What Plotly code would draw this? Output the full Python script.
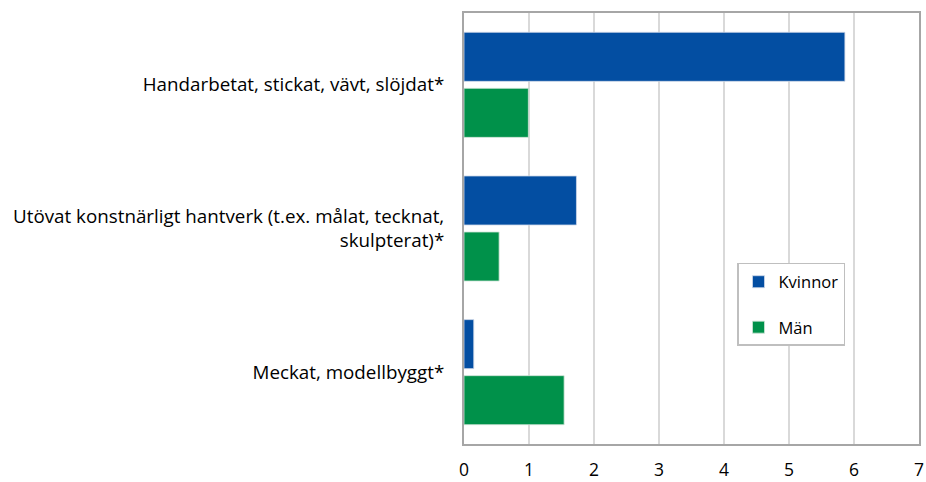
import plotly.graph_objects as go

categories = [
    "Handarbetat, stickat, vävt, slöjdat*",
    "Utövat konstnärligt hantverk (t.ex. målat, tecknat,<br>skulpterat)*",
    "Meckat, modellbyggt*",
]
kvinnor = [5.86, 1.73, 0.15]
man = [0.99, 0.54, 1.54]
x_ticks = [0, 1, 2, 3, 4, 5, 6, 7]

BLUE = "#034EA2"
GREEN = "#00914A"
FONT = "Open Sans, Carlito, Calibri, sans-serif"

fig = go.Figure()
fig.add_trace(go.Bar(y=categories, x=kvinnor, name="Kvinnor", orientation="h",
                     marker=dict(color=BLUE, line=dict(color="#cfd8e8", width=0.8)),
                     legendgroup="k"))
fig.add_trace(go.Bar(y=categories, x=man, name="Män", orientation="h",
                     marker=dict(color=GREEN, line=dict(color="#cfe5d8", width=0.8)),
                     legendgroup="m"))

fig.update_layout(
    width=926, height=482,
    margin=dict(l=464, r=7, t=13, b=38),
    paper_bgcolor="white", plot_bgcolor="white",
    font=dict(family=FONT, size=18.8, color="#000000"),
    barmode="group", bargap=0.22, bargroupgap=0.125,
    showlegend=True,
    legend=dict(x=0.6, y=0.42, xanchor="left", yanchor="top",
                bordercolor="#bfbfbf", borderwidth=1.5, bgcolor="white",
                tracegroupgap=21, font=dict(size=16.5, family=FONT),
                itemwidth=30),
)
fig.update_xaxes(range=[0, 7], tickvals=x_ticks, showgrid=True, gridcolor="#d9d9d9",
                 gridwidth=1.5, showline=True, linecolor="#a6a6a6", linewidth=2,
                 mirror=True, zeroline=False, ticks="", ticklabelstandoff=9,
                 tickfont=dict(size=17.5), automargin=False)
fig.update_yaxes(autorange="reversed", showgrid=False, showline=True,
                 linecolor="#a6a6a6", linewidth=2, mirror=True, ticks="",
                 ticklabelstandoff=14, automargin=False)

fig.write_html("out.html")
